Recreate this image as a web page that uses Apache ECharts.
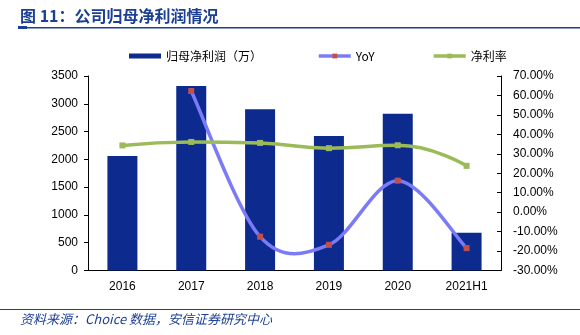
<!DOCTYPE html>
<html><head><meta charset="utf-8">
<script src="https://cdn.jsdelivr.net/npm/echarts@6/dist/echarts.min.js"></script>
<style>html,body{margin:0;padding:0;background:#fff}#c{width:580px;height:335px}</style>
</head><body><div id="c"></div>
<script>
const categories = ['2016','2017','2018','2019','2020','2021H1'];
const profit = [2060, 3320, 2900, 2420, 2820, 680];
const yoy = [null, 62.3, -12.6, -16.8, 16.2, -18.5];
const margin = [34.3, 36.1, 35.6, 32.9, 34.4, 23.8];
const leftTicks = {min: 0, max: 3500, interval: 500};
const rightTicks = {min: -30, max: 70, interval: 10};
const titleText = '图 11：公司归母净利润情况';
const sourceText = '资料来源：Choice 数据，安信证券研究中心';
const seriesNames = ['归母净利润（万）', 'YoY', '净利率'];

const YOY_COLOR = '#7b7bf7', MARK_COLOR = '#c0504d', MARGIN_COLOR = '#9bbb59';
const chart = echarts.init(document.getElementById('c'), null, {renderer: 'canvas'});
const font = 'Liberation Sans, Arial, sans-serif';
const legendBase = {top: 45, itemWidth: 32, itemHeight: 6,
  textStyle: {fontFamily: 'Noto Sans CJK SC', fontSize: 12, color: '#000'}};

// Excel-like (Catmull-Rom) smooth curve through the YoY points, drawn via axis coords
const yoyPts = yoy.map((v, i) => [i, v]).filter(p => p[1] != null);
function renderCurve(params, api) {
  if (params.dataIndex !== 0) return null;
  const P = yoyPts.map(p => api.coord(p));
  const n = P.length, children = [];
  for (let i = 0; i < n - 1; i++) {
    const p0 = P[Math.max(i - 1, 0)], p1 = P[i], p2 = P[i + 1], p3 = P[Math.min(i + 2, n - 1)];
    children.push({type: 'bezierCurve', shape: {
      x1: p1[0], y1: p1[1], x2: p2[0], y2: p2[1],
      cpx1: p1[0] + (p2[0] - p0[0]) / 6, cpy1: p1[1] + (p2[1] - p0[1]) / 6,
      cpx2: p2[0] - (p3[0] - p1[0]) / 6, cpy2: p2[1] - (p3[1] - p1[1]) / 6},
      style: {stroke: YOY_COLOR, lineWidth: 3.5, fill: null, lineCap: 'round'}});
  }
  return {type: 'group', children};
}

chart.setOption({
  animation: false,
  backgroundColor: '#fff',
  graphic: [
    {type: 'text', left: 20, top: 8, style: {text: titleText, fill: '#1c3f94', font: 'bold 16px "Noto Sans CJK SC"'}},
    {type: 'rect', shape: {x: 18, y: 27, width: 562, height: 1.5}, style: {fill: '#1c3f94'}},
    {type: 'rect', shape: {x: 18, y: 26, width: 9, height: 3}, style: {fill: '#1c3f94'}},
    {type: 'rect', shape: {x: 0, y: 309, width: 580, height: 1}, style: {fill: '#1c3f94'}},
    {type: 'text', left: 20, top: 313, style: {text: sourceText, fill: '#1c3f94', font: 'italic 13px "Noto Sans CJK SC"'}}
  ],
  legend: [
    Object.assign({left: 124, data: [{name: seriesNames[0], icon: 'rect'}]}, legendBase, {itemHeight: 5}),
    Object.assign({left: 312, lineStyle: {width: 3.5, color: YOY_COLOR, opacity: 1},
      data: [{name: seriesNames[1], lineStyle: {color: YOY_COLOR, width: 3.5, opacity: 1}}]}, legendBase),
    Object.assign({left: 427, lineStyle: {width: 3.5},
      data: [{name: seriesNames[2]}]}, legendBase)
  ],
  grid: {left: 88, right: 79, top: 76, bottom: 64.5},
  xAxis: {
    type: 'category', data: categories,
    axisLine: {lineStyle: {color: '#000'}},
    axisTick: {inside: true, length: 4, lineStyle: {color: '#000'}},
    axisLabel: {color: '#000', fontFamily: font, fontSize: 12, margin: 10}
  },
  yAxis: [
    {type: 'value', min: leftTicks.min, max: leftTicks.max, interval: leftTicks.interval,
     splitLine: {show: false},
     axisLine: {show: true, lineStyle: {color: '#000'}},
     axisTick: {show: true, length: 4, lineStyle: {color: '#000'}},
     axisLabel: {color: '#000', fontFamily: font, fontSize: 12, margin: 10, formatter: v => String(v)}},
    {type: 'value', min: rightTicks.min, max: rightTicks.max, interval: rightTicks.interval,
     splitLine: {show: false},
     axisLine: {show: true, lineStyle: {color: '#000'}},
     axisTick: {show: true, inside: true, length: 4, lineStyle: {color: '#000'}},
     axisLabel: {color: '#000', fontFamily: font, fontSize: 12, margin: 12,
                 formatter: v => v.toFixed(2) + '%'}}
  ],
  series: [
    {name: seriesNames[0], type: 'bar', data: profit, barWidth: 30, yAxisIndex: 0,
     itemStyle: {color: '#0d2a8f'}},
    {name: 'yoyCurve', type: 'custom', yAxisIndex: 1, data: yoyPts,
     renderItem: renderCurve, silent: true, z: 3},
    {name: seriesNames[1], type: 'line', data: yoy, yAxisIndex: 1, z: 4,
     symbol: 'rect', symbolSize: 6,
     lineStyle: {color: YOY_COLOR, width: 3.5, opacity: 0},
     itemStyle: {color: MARK_COLOR}},
    {name: seriesNames[2], type: 'line', data: margin, yAxisIndex: 1, smooth: 0.5, z: 4,
     symbol: 'rect', symbolSize: 6,
     lineStyle: {color: MARGIN_COLOR, width: 3.5},
     itemStyle: {color: MARGIN_COLOR}}
  ]
});
</script></body></html>
